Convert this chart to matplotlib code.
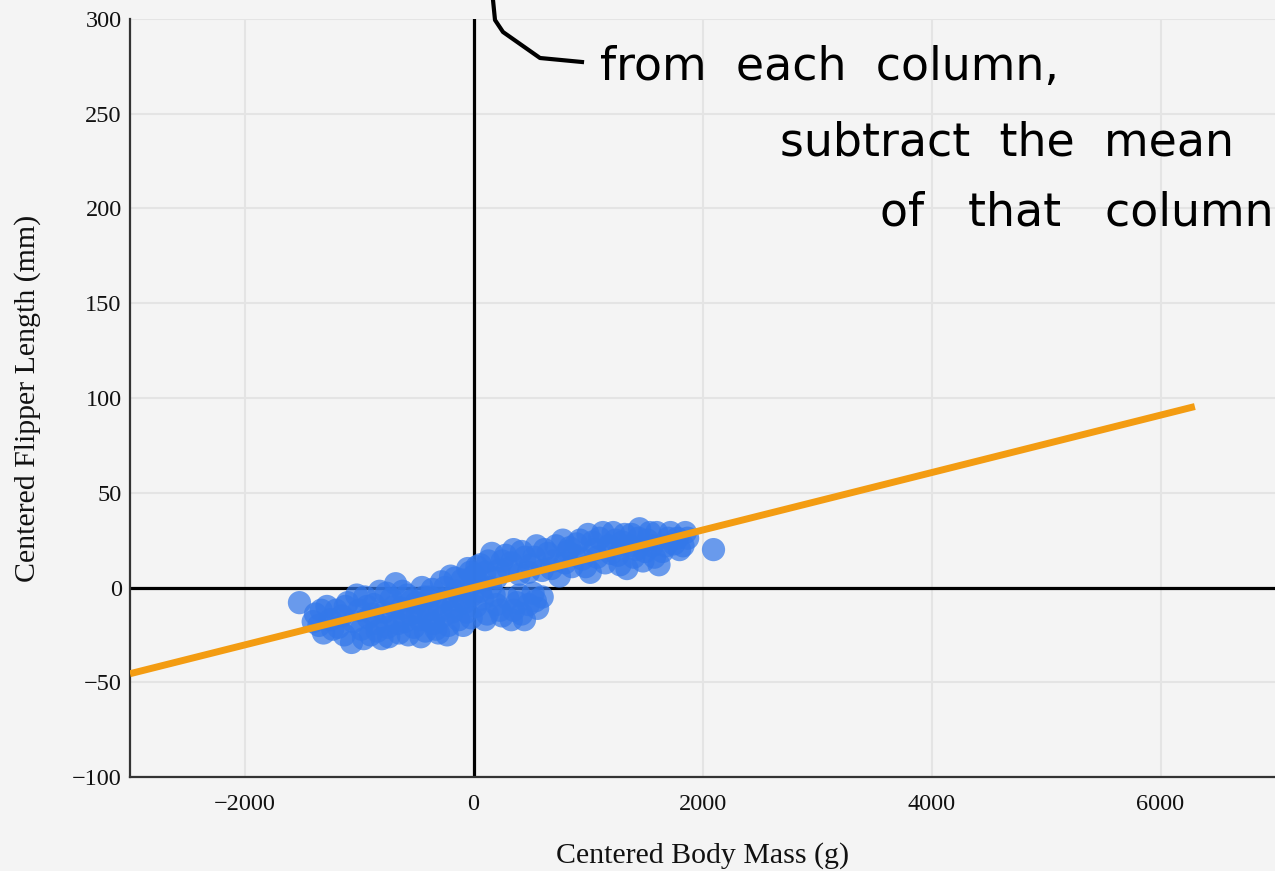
import matplotlib.pyplot as plt
from matplotlib.lines import Line2D

mass_c = [-1520, -1380, -1350, -1310, -1280, -1250, -1200, -1180, -1150, -1100,
          -1065, -1050, -1000, -980, -950, -920, -900, -870, -850, -820,
          -800, -780, -750, -720, -700, -680, -650, -630, -600, -580,
          -550, -520, -500, -470, -450, -420, -400, -380, -350, -320,
          -306, -280, -260, -240, -220, -200, -180, -150, -130, -100,
          -80, -60, -30, -10, 20, 40, 80, 120, 150, 200,
          250, 300, 350, 400, 445, 480, 520, 560, 600,
          -1400, -1330, -1230, -1130, -1120, -1020, -960, -930, -880, -840,
          -760, -740, -690, -660, -620, -570, -540, -490, -460, -430,
          -390, -360, -330, -290, -250, -230, -190, -160, -120, -90,
          -50, -20, 10, 60, 100, 180, 230, 330, 380, 420, 540,
          -50, 0, 60, 100, 160, 200, 250, 300, 350, 400,
          450, 500, 550, 600, 650, 700, 750, 780, 820, 860,
          900, 950, 1000, 1020, 1060, 1100, 1150, 1180, 1220, 1260,
          1300, 1340, 1380, 1420, 1450, 1480, 1520, 1560, 1600, 1620,
          1650, 1700, 1750, 1800, 1850, 2096,
          30, 130, 220, 280, 330, 420, 480, 530, 620, 680,
          720, 800, 840, 880, 930, 980, 1040, 1080, 1130, 1200,
          1240, 1280, 1320, 1360, 1400, 1440, 1500, 1540, 1580, 1680,
          1720, 1780, 1830, 1870]
flip_c = [-8, -14, -20, -24, -10, -17, -12, -21, -15, -8,
          -29, -18, -12, -22, -5, -16, -25, -9, -19, -2,
          -27, -13, -21, -6, -16, 2, -24, -11, -18, -4,
          -14, -21, -8, -17, 0, -23, -12, -5, -19, -9,
          -24, 3, -15, -6, -20, 6, -10, -2, -17, 4,
          -8, -13, 8, -4, -10, 3, -6, -14, 0, -9,
          -15, -6, -12, -4, -17, -9, -3, -11, -5,
          -18, -12, -22, -25, -10, -4, -27, -10, -14, -23,
          -3, -26, -10, -19, -2, -25, -7, -13, -26, -5,
          -17, -1, -22, -12, 0, -25, -13, 5, -7, -20,
          -1, -16, 6, -2, -17, -4, -12, -17, -8, -14, -7,
          10, 6, 12, 8, 18, 5, 14, 10, 20, 7,
          16, 12, 22, 9, 18, 14, 6, 25, 19, 11,
          23, 15, 28, 8, 20, 26, 13, 22, 29, 17,
          24, 10, 28, 20, 31, 14, 25, 22, 29, 12,
          19, 26, 23, 20, 29, 20,
          11, 14, 9, 17, 13, 19, 8, 16, 20, 10,
          22, 13, 21, 17, 25, 11, 24, 16, 29, 18,
          25, 12, 28, 22, 16, 26, 19, 29, 16, 22,
          29, 26, 22, 26]

# least squares line through the centered data
line_x = [-3000, 6300]
line_y = [-45.5, 95.5]

x_ticks = [-2000, 0, 2000, 4000, 6000]
y_ticks = [-100, -50, 0, 50, 100, 150, 200, 250, 300]

bg = '#f4f4f4'
plt.rcParams['font.family'] = ['Liberation Serif', 'DejaVu Serif']

fig = plt.figure(figsize=(12.75, 8.71), dpi=100, facecolor=bg)
ax = fig.add_axes([130 / 1275, 94 / 871, 1145 / 1275, 758 / 871])
ax.set_facecolor(bg)

ax.set_xlim(-3000, 7000)
ax.set_ylim(-100, 300)
ax.set_xticks(x_ticks)
ax.set_yticks(y_ticks)
ax.grid(True, color='#e4e4e4', linewidth=1.5)
ax.set_axisbelow(True)
ax.tick_params(length=0, labelsize=17.5, colors='#111111')
ax.tick_params(axis='x', pad=12)
ax.tick_params(axis='y', pad=6)
for s in ['top', 'right']:
    ax.spines[s].set_visible(False)
for s in ['left', 'bottom']:
    ax.spines[s].set_color('#333333')
    ax.spines[s].set_linewidth(1.6)

ax.axhline(0, color='black', linewidth=2.3, zorder=2)
ax.axvline(0, color='black', linewidth=2.3, zorder=2)

ax.scatter(mass_c, flip_c, s=280, color='#3378ea', alpha=0.72,
           edgecolors='none', zorder=3)
ax.plot(line_x, line_y, color='#f39c12', linewidth=5,
        solid_capstyle='butt', zorder=4)

ax.set_xlabel('Centered Body Mass (g)', fontsize=21.5, labelpad=20, color='#111111')
ax.set_ylabel('Centered Flipper Length (mm)', fontsize=21.5, labelpad=22, color='#111111')

# handwritten note (approximated with text + a pen stroke)
W, H = 1275, 871
fig.add_artist(Line2D([493 / W, 495 / W, 503 / W, 540 / W, 582 / W],
                      [1, 1 - 20 / H, 1 - 32 / H, 1 - 58 / H, 1 - 62 / H],
                      color='black', linewidth=3))
hand = dict(family=['DejaVu Sans'], fontsize=33, color='black',
            va='baseline', ha='left')
fig.text(600 / W, 1 - 80 / H, 'from  each  column,', **hand)
fig.text(780 / W, 1 - 155 / H, 'subtract  the  mean', **hand)
fig.text(880 / W, 1 - 225 / H, 'of   that   column', **hand)

fig.savefig('out.png', dpi=100, facecolor=bg)
